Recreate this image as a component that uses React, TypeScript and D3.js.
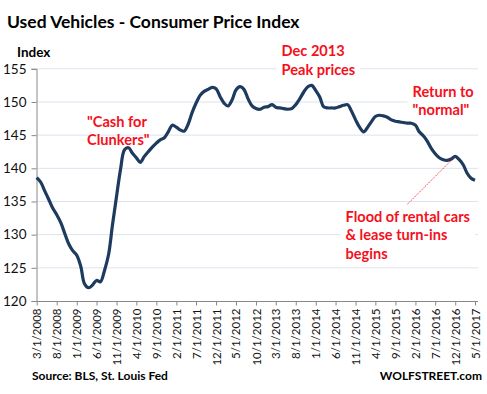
import React, { useRef, useEffect } from 'react';
import * as d3 from 'd3';

// Used vehicles CPI, monthly from 3/1/2008 to 5/1/2017
const startMonth = new Date(2008, 2, 1);
const cpiValues = [
  138.6, 137.9, 136.6, 135.3, 134.0, 133.0, 131.8, 130.2, 128.6, 127.6,
  126.9, 125.2, 122.6, 122.0, 122.4, 123.1, 122.9, 124.6, 127.0, 131.5,
  135.8, 139.8, 142.8, 143.1, 142.3, 141.6, 140.9, 141.8, 142.5, 143.2,
  143.8, 144.3, 144.6, 145.5, 146.5, 146.2, 145.8, 145.6, 146.6, 148.4,
  149.8, 151.0, 151.6, 151.9, 152.2, 152.0, 150.8, 149.8, 149.4, 150.3,
  151.8, 152.3, 151.9, 150.5, 149.4, 149.0, 148.9, 149.2, 149.3, 149.6,
  149.2, 149.1, 149.0, 148.9, 149.0, 149.6, 150.5, 151.5, 152.3, 152.5,
  151.7, 150.7, 149.3, 149.1, 149.1, 149.1, 149.3, 149.5, 149.6, 148.6,
  147.3, 146.2, 145.5, 146.2, 147.0, 147.8, 148.0, 147.9, 147.7, 147.3,
  147.1, 147.0, 146.9, 146.8, 146.8, 146.5, 145.5, 144.9, 144.1, 143.0,
  142.2, 141.6, 141.3, 141.2, 141.4, 141.8, 141.3, 140.5, 139.3, 138.5,
  138.2,
];
const yTicks = [120, 125, 130, 135, 140, 145, 150, 155];
const xTickLabels = [
  '3/1/2008', '8/1/2008', '1/1/2009', '6/1/2009', '11/1/2009', '4/1/2010',
  '9/1/2010', '2/1/2011', '7/1/2011', '12/1/2011', '5/1/2012', '10/1/2012',
  '3/1/2013', '8/1/2013', '1/1/2014', '6/1/2014', '11/1/2014', '4/1/2015',
  '9/1/2015', '2/1/2016', '7/1/2016', '12/1/2016', '5/1/2017',
];

const FONT = 'Lato, "Open Sans", sans-serif';
const RED = '#f5101c';

function App() {
  const chartRef = useRef<SVGSVGElement>(null);

  useEffect(() => {
    drawChart();
  }, []);

  const drawChart = () => {
    const svg = d3.select(chartRef.current);
    svg.selectAll('*').remove();

    const data = cpiValues.map((v, i) => ({ date: d3.timeMonth.offset(startMonth, i), value: v }));
    const lastDate = data[data.length - 1].date;

    const x = d3.scaleTime().domain([startMonth, lastDate]).range([36.7, 475]);
    const y = d3.scaleLinear().domain([120, 155]).range([301, 68.8]);

    // gridlines
    svg
      .append('g')
      .selectAll('line')
      .data(yTicks.filter((t) => t > 120))
      .enter()
      .append('line')
      .attr('x1', 37)
      .attr('x2', 478)
      .attr('y1', (d) => y(d))
      .attr('y2', (d) => y(d))
      .attr('stroke', '#dce3ef')
      .attr('stroke-width', 1);

    // y axis
    const yAxis = svg.append('g').attr('transform', `translate(36.5,0)`).call(d3.axisLeft(y).tickValues(yTicks).tickSize(5).tickPadding(5));
    yAxis.select('.domain').attr('stroke', '#888');
    yAxis.selectAll('line').attr('stroke', '#888');
    yAxis.selectAll('text').attr('font-family', FONT).attr('font-size', 13.5).attr('fill', '#111');

    // x axis
    const tickDates = xTickLabels.map((_, i) => d3.timeMonth.offset(startMonth, i * 5));
    const xAxis = svg
      .append('g')
      .attr('transform', `translate(0,301.5)`)
      .call(
        d3
          .axisBottom(x)
          .tickValues(tickDates)
          .tickSize(4)
          .tickSizeOuter(0)
          .tickFormat((_, i) => xTickLabels[i])
      );
    xAxis.select('.domain').attr('stroke', '#888').attr('d', `M36.7,0H478`);
    xAxis.selectAll('line').attr('stroke', '#888');
    xAxis
      .selectAll('text')
      .attr('font-family', FONT)
      .attr('font-size', 11.5)
      .attr('fill', '#111')
      .attr('transform', 'rotate(-90)')
      .attr('text-anchor', 'end')
      .attr('x', -7)
      .attr('y', 0)
      .attr('dy', '0.35em');

    // line
    const line = d3
      .line<{ date: Date; value: number }>()
      .x((d) => x(d.date))
      .y((d) => y(d.value))
      .curve(d3.curveCatmullRom.alpha(0.5));
    svg
      .append('path')
      .datum(data)
      .attr('d', line)
      .attr('fill', 'none')
      .attr('stroke', '#1d3a5f')
      .attr('stroke-width', 3.2)
      .attr('stroke-linejoin', 'round');

    // annotation pointer
    const peak2016 = data[105];
    svg
      .append('line')
      .attr('x1', 407.3)
      .attr('y1', 204.3)
      .attr('x2', x(peak2016.date))
      .attr('y2', y(peak2016.value))
      .attr('stroke', RED)
      .attr('stroke-width', 0.8)
      .attr('stroke-dasharray', '1.5,1');

    const annotate = (lines: string[], x0: number, y0: number, box: boolean) => {
      const g = svg.append('g');
      const text = g
        .append('text')
        .attr('font-family', FONT)
        .attr('font-weight', 'bold')
        .attr('font-size', 14.6)
        .attr('fill', RED);
      lines.forEach((t, i) => {
        text.append('tspan').attr('x', x0).attr('y', y0 + i * 18.5).text(t);
      });
      if (box) {
        const bb = (text.node() as SVGTextElement).getBBox();
        g.insert('rect', 'text')
          .attr('x', bb.x - 5)
          .attr('y', bb.y - 2)
          .attr('width', bb.width + 10)
          .attr('height', bb.height + 4)
          .attr('fill', '#fff');
      }
    };
    annotate(['"Cash for', 'Clunkers"'], 87, 126.5, false);
    annotate(['Dec 2013', 'Peak prices'], 281.5, 56, true);
    annotate(['Return to', '"normal"'], 412.5, 96.5, true);
    annotate(['Flood of rental cars', '& lease turn-ins', 'begins'], 345.5, 221.5, true);

    // titles
    svg
      .append('text')
      .attr('x', 7)
      .attr('y', 28)
      .attr('font-family', FONT)
      .attr('font-weight', 'bold')
      .attr('font-size', 17.5)
      .attr('fill', '#000')
      .text('Used Vehicles - Consumer Price Index');
    svg
      .append('text')
      .attr('x', 17)
      .attr('y', 57)
      .attr('font-family', FONT)
      .attr('font-weight', 'bold')
      .attr('font-size', 13.5)
      .attr('fill', '#000')
      .text('Index');
    svg
      .append('text')
      .attr('x', 32)
      .attr('y', 380)
      .attr('font-family', FONT)
      .attr('font-weight', 'bold')
      .attr('font-size', 12)
      .attr('fill', '#000')
      .text('Source: BLS, St. Louis Fed');
    svg
      .append('text')
      .attr('x', 482)
      .attr('y', 380)
      .attr('text-anchor', 'end')
      .attr('font-family', FONT)
      .attr('font-weight', 'bold')
      .attr('font-size', 12)
      .attr('fill', '#000')
      .text('WOLFSTREET.com');
  };

  return (
    <svg
      ref={chartRef}
      width={487}
      height={394}
      style={{ position: 'absolute', left: 0, top: 0, background: '#fff' }}
    />
  );
}

export default App;
